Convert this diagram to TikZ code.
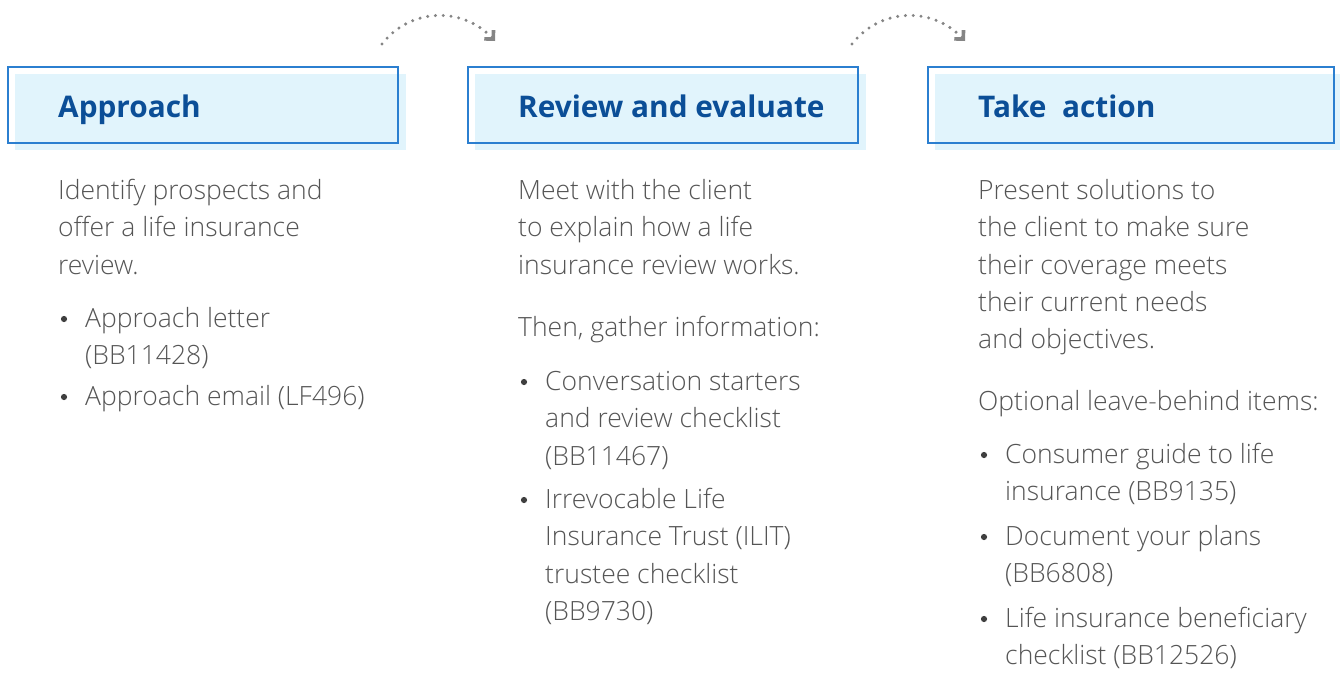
\documentclass[tikz,border=0pt]{standalone}
\usepackage{fontspec}
\usetikzlibrary{arrows.meta}
\newfontfamily\bodyfont{Open Sans Light}
\newfontfamily\headfont{Open Sans}[BoldFont={* Bold}]
\definecolor{headblue}{HTML}{0B4E97}
\definecolor{boxline}{HTML}{2B7FD0}
\definecolor{boxfill}{HTML}{E1F4FC}
\definecolor{bodygray}{HTML}{555555}
\definecolor{dotgray}{HTML}{3F3F3F}
\definecolor{flowgray}{HTML}{858585}
\tikzset{
  hdrfill/.style={fill=boxfill, draw=none},
  hdrline/.style={draw=boxline, line width=1.5pt},
  hdrtext/.style={anchor=base west, inner sep=0pt, text=headblue,
    font=\headfont\bfseries\fontsize{29.8}{36}\selectfont},
  body/.style={anchor=base west, inner sep=0pt, text=bodygray,
    font=\bodyfont\fontsize{26.5}{30}\selectfont},
  bulletdot/.style={fill=dotgray},
  flow/.style={draw=flowgray, line width=3.4pt, line cap=round,
    dash pattern=on 0pt off 7.8pt,
    -{Straight Barb[angle=90:9pt, line width=3.6pt, line cap=butt]}},
}
% one text line per node: prefix, x, list of baseline/text
\newcommand\textlines[3]{%
  \foreach \yy/\txt [count=\k] in {#3}{\node[body] (#1-\k) at (#2,\yy) {\txt};}}
% bullet dots: x of column, list of first-line baselines
\newcommand\bulletdots[2]{%
  \foreach \yy in {#2}{\fill[bulletdot] (#1+6,\yy-8) circle (3.1);}}
\begin{document}
\begin{tikzpicture}[x=1pt, y=-1pt]
\useasboundingbox (0,0) rectangle (1340,673);

% header boxes: offset light fill under a thin blue frame
\foreach \bx/\bw/\name/\label in {8/390/approach/Approach,
    468/390/review/Review and evaluate, 928/406/action/Take\ \ action}{
  \fill[hdrfill] (\bx+7,74) rectangle (\bx+\bw+8,150);
  \draw[hdrline] (\bx,67) rectangle (\bx+\bw,143);
  \node[hdrtext] (\name) at (\bx+50,117) {\label};
}

% dotted flow arrows between the stages
\coordinate (f1s) at (382,44);
\coordinate (f1e) at (495,41);
\coordinate (f2s) at (852,44);
\coordinate (f2e) at (965,41);
\draw[flow] (f1s) .. controls (410,8) and (462,6) .. (f1e);
\draw[flow] (f2s) .. controls (880,8) and (932,6) .. (f2e);

% column 1
\textlines{c1}{58}{199/Identify prospects and, 236.5/offer a life insurance,
  274/review.}
\textlines{c1b}{85}{327/Approach letter, 364.5/(BB11428), 405/Approach email (LF496)}
\bulletdots{58}{327,405}

% column 2
\textlines{c2}{518}{199/Meet with the client, 236.5/to explain how a life,
  274/insurance review works., 336/{Then, gather information:}}
\textlines{c2b}{545}{390/Conversation starters, 427.5/and review checklist,
  465/(BB11467), 508/Irrevocable Life, 545.5/Insurance Trust (ILIT),
  583/trustee checklist, 620.5/(BB9730)}
\bulletdots{518}{390,508}

% column 3
\textlines{c3}{978}{199/Present solutions to, 236.5/the client to make sure,
  274/their coverage meets, 311/their current needs, 348.5/and objectives.,
  410/Optional leave-behind items:}
\textlines{c3b}{1005}{463/Consumer guide to life, 500.5/insurance (BB9135),
  545/Document your plans, 582.5/(BB6808), 627/Life insurance beneficiary,
  664.5/checklist (BB12526)}
\bulletdots{978}{463,545,627}
\end{tikzpicture}
\end{document}
